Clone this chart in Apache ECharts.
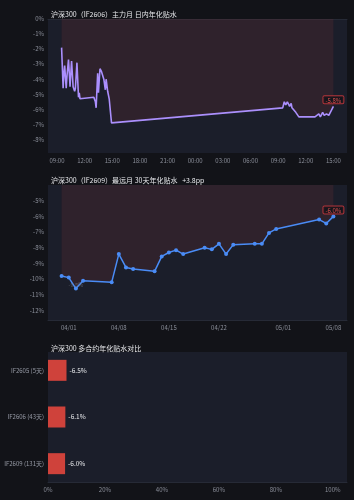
<!DOCTYPE html>
<html>
<head>
<meta charset="utf-8">
<script src="https://cdn.jsdelivr.net/npm/echarts@6/dist/echarts.min.js"></script>
<style>
  html, body { margin: 0; padding: 0; background: #121318; }
  #chart { width: 354px; height: 500px; }
</style>
</head>
<body>
<div id="chart"></div>
<script>
// IF2606 intraday annualized basis (%)
const intraTimes = [
  '2026-05-07 09:30', '2026-05-07 09:40', '2026-05-07 09:45', '2026-05-07 09:50', '2026-05-07 10:00',
  '2026-05-07 10:05', '2026-05-07 10:15', '2026-05-07 10:25', '2026-05-07 10:35', '2026-05-07 10:45',
  '2026-05-07 10:55', '2026-05-07 11:00', '2026-05-07 11:10', '2026-05-07 11:20', '2026-05-07 11:25',
  '2026-05-07 11:30', '2026-05-07 13:00', '2026-05-07 13:10', '2026-05-07 13:15', '2026-05-07 13:25',
  '2026-05-07 13:30', '2026-05-07 13:40', '2026-05-07 13:50', '2026-05-07 14:00', '2026-05-07 14:05',
  '2026-05-07 14:15', '2026-05-07 14:20', '2026-05-07 14:30', '2026-05-07 14:40', '2026-05-07 14:45',
  '2026-05-07 14:55', '2026-05-07 15:00',
  '2026-05-08 09:30', '2026-05-08 09:40', '2026-05-08 09:50', '2026-05-08 10:00', '2026-05-08 10:15',
  '2026-05-08 10:25', '2026-05-08 10:30', '2026-05-08 10:40', '2026-05-08 10:55', '2026-05-08 11:05',
  '2026-05-08 11:15', '2026-05-08 11:30', '2026-05-08 13:00', '2026-05-08 13:10', '2026-05-08 13:25',
  '2026-05-08 13:35', '2026-05-08 13:50', '2026-05-08 14:00', '2026-05-08 14:15', '2026-05-08 14:30',
  '2026-05-08 14:40', '2026-05-08 14:50', '2026-05-08 15:00'
];
const intraValues = [
  -1.9, -4.6, -3.6, -3.1, -4.6,
  -3.8, -2.7, -4.5, -2.8, -4.5,
  -4.8, -4.6, -2.9, -5.2, -4.9,
  -5.3, -5.2, -5.5, -5.9, -3.6,
  -4.9, -3.3, -3.5, -3.6, -4.0,
  -4.7, -4.0, -4.8, -5.3, -5.3,
  -6.9, -6.9,
  -5.9, -5.5, -5.7, -5.5, -5.8,
  -5.6, -5.9, -5.8, -6.2, -6.3,
  -6.5, -6.5, -6.5, -6.6, -6.3,
  -6.5, -6.2, -6.4, -6.3, -6.4,
  -6.2, -6.1, -5.8
];
const intraTicks = [
  '2026-05-07 09:00', '2026-05-07 12:00', '2026-05-07 15:00', '2026-05-07 18:00', '2026-05-07 21:00',
  '2026-05-08 00:00', '2026-05-08 03:00', '2026-05-08 06:00', '2026-05-08 09:00', '2026-05-08 12:00',
  '2026-05-08 15:00'
];

// IF2609 30-day annualized basis (%)
const farDates = [
  '2026-03-31', '2026-04-01', '2026-04-02', '2026-04-03', '2026-04-07', '2026-04-08', '2026-04-09',
  '2026-04-10', '2026-04-13', '2026-04-14', '2026-04-15', '2026-04-16', '2026-04-17', '2026-04-20',
  '2026-04-21', '2026-04-22', '2026-04-23', '2026-04-24', '2026-04-27', '2026-04-28', '2026-04-29',
  '2026-04-30', '2026-05-06', '2026-05-07', '2026-05-08'
];
const farValues = [
  -9.8, -9.9, -10.6, -10.1, -10.2, -8.4, -9.25,
  -9.35, -9.5, -8.55, -8.3, -8.15, -8.4, -8.0,
  -8.1, -7.75, -8.4, -7.8, -7.75, -7.75, -7.05,
  -6.8, -6.2, -6.45, -6.0
];
const farTicks = ['2026-04-01', '2026-04-08', '2026-04-15', '2026-04-22', '2026-05-01', '2026-05-08'];

// contracts compare
const contracts = ['IF2605 (5天)', 'IF2606 (43天)', 'IF2609 (131天)'];
const contractValues = [-6.5, -6.1, -6.0];

const BG = '#1b1e2a';
const AXIS_TXT = '#8a8e99';
const FONT = 'Noto Sans CJK SC, Noto Sans, sans-serif';

function ts(s) {
  return new Date(s.length === 10 ? s + 'T00:00' : s.replace(' ', 'T')).getTime();
}
function pad(n) { return (n < 10 ? '0' : '') + n; }
function pctInt(v) {
  return Math.abs(v - Math.round(v)) < 1e-6 ? Math.round(v) + '%' : '';
}
function padMin(v) { return v.min - (v.max - v.min) * 0.05; }
function padMax(v) { return v.max + (v.max - v.min) * 0.05; }

const intraData = intraTimes.map((t, i) => [ts(t), intraValues[i]]);
const farData = farDates.map((t, i) => [ts(t), farValues[i]]);
const lastIntra = intraData[intraData.length - 1];
const lastFar = farData[farData.length - 1];
const change = farValues[farValues.length - 1] - farValues[0];

const endLabel = {
  show: true,
  position: 'top',
  distance: 3,
  color: '#e0524f',
  fontSize: 6,
  fontFamily: FONT,
  borderColor: '#b0343a',
  borderWidth: 1,
  borderRadius: 1,
  padding: [1, 2, 0, 2],
  backgroundColor: 'rgba(18,19,26,0.85)',
  formatter: p => p.value.toFixed(1) + '%'
};
const titleStyle = { color: '#e6e7ea', fontSize: 7, fontWeight: 'normal', fontFamily: FONT };

const chart = echarts.init(document.getElementById('chart'));

chart.setOption({
  backgroundColor: '#121318',
  animation: false,
  textStyle: { fontFamily: FONT },
  title: [
    { text: '沪深300（IF2606）主力月 日内年化贴水', left: 46, top: 6, textStyle: titleStyle },
    { text: '沪深300（IF2609）最远月 30天年化贴水   ' + (change >= 0 ? '+' : '') + change.toFixed(1) + 'pp',
      left: 46, top: 172, textStyle: titleStyle },
    { text: '沪深300 多合约年化贴水对比', left: 46, top: 340, textStyle: titleStyle }
  ],
  grid: [
    { left: 48, right: 7, top: 19, height: 134, show: true, backgroundColor: BG, borderWidth: 0 },
    { left: 48, right: 7, top: 185, height: 135, show: true, backgroundColor: BG, borderWidth: 0 },
    // panel behind the bars
    { left: 48, right: 7, top: 352, height: 130, show: true, backgroundColor: BG, borderWidth: 0 },
    { left: 48, right: 7, top: 347, height: 140, show: false }
  ],
  xAxis: [
    {
      type: 'value', gridIndex: 0, min: padMin, max: padMax,
      axisLine: { show: true, lineStyle: { color: '#262a36' } },
      axisTick: { show: false },
      splitLine: { show: false },
      axisLabel: {
        customValues: intraTicks.map(ts),
        color: AXIS_TXT, fontSize: 6, margin: 5,
        formatter: v => { const d = new Date(v); return pad(d.getHours()) + ':' + pad(d.getMinutes()); }
      }
    },
    {
      type: 'value', gridIndex: 1, min: padMin, max: padMax,
      axisLine: { show: true, lineStyle: { color: '#262a36' } },
      axisTick: { show: false },
      splitLine: { show: false },
      axisLabel: {
        customValues: farTicks.map(ts),
        color: AXIS_TXT, fontSize: 6, margin: 5,
        formatter: v => { const d = new Date(v); return pad(d.getMonth() + 1) + '/' + pad(d.getDate()); }
      }
    },
    {
      type: 'value', gridIndex: 2, min: 0, max: 105, interval: 20,
      axisLine: { show: true, lineStyle: { color: '#262a36' } },
      axisTick: { show: false },
      splitLine: { show: false },
      axisLabel: { color: AXIS_TXT, fontSize: 6, margin: 5,
        formatter: v => (v % 20 === 0 ? v + '%' : '') }
    },
    {
      type: 'value', gridIndex: 3, min: 0, max: 105, show: false
    }
  ],
  yAxis: [
    {
      type: 'value', gridIndex: 0, splitNumber: 9,
      min: v => v.min - 2, max: v => Math.min(0, v.max + 2),
      axisLine: { show: false }, axisTick: { show: false }, splitLine: { show: false },
      axisLabel: { color: AXIS_TXT, fontSize: 6, margin: 4, formatter: pctInt }
    },
    {
      type: 'value', gridIndex: 1, splitNumber: 9,
      min: v => v.min - 2, max: v => Math.min(0, v.max + 2),
      axisLine: { show: false }, axisTick: { show: false }, splitLine: { show: false },
      axisLabel: { color: AXIS_TXT, fontSize: 6, margin: 4, formatter: pctInt, showMaxLabel: false }
    },
    {
      type: 'value', gridIndex: 2, show: false
    },
    {
      type: 'category', gridIndex: 3, data: contracts, inverse: true,
      axisLine: { show: false }, axisTick: { show: false }, splitLine: { show: false },
      axisLabel: { color: '#979ba6', fontSize: 6, margin: 4 }
    }
  ],
  series: [
    {
      type: 'line', xAxisIndex: 0, yAxisIndex: 0,
      data: intraData,
      symbol: 'none',
      lineStyle: { color: '#ab8ffc', width: 1.6 },
      areaStyle: { origin: 'end', color: 'rgba(239,68,68,0.14)' },
      markPoint: {
        symbol: 'circle', symbolSize: 0,
        label: endLabel,
        data: [{ coord: lastIntra, value: lastIntra[1] }]
      }
    },
    {
      type: 'line', xAxisIndex: 1, yAxisIndex: 1,
      data: farData,
      symbol: 'circle', symbolSize: 4,
      itemStyle: { color: '#4a8cf6' },
      lineStyle: { color: '#4a8cf6', width: 1.5 },
      areaStyle: { origin: 'end', color: 'rgba(239,68,68,0.14)' },
      markPoint: {
        symbol: 'circle', symbolSize: 0,
        data: [
          { coord: lastFar, value: lastFar[1], label: endLabel },
          { coord: farData[2], value: farValues[0],
            label: { show: true, position: 'top', distance: 1, color: 'rgba(140,140,150,0.55)', fontSize: 5.5,
              formatter: p => p.value.toFixed(1) + '%' } }
        ]
      }
    },
    {
      type: 'bar', xAxisIndex: 3, yAxisIndex: 3,
      data: contractValues.map(v => Math.abs(v)),
      barWidth: 21,
      itemStyle: { color: '#cf423b' },
      label: {
        show: true, position: 'right', distance: 3,
        color: '#e6e7ea', fontSize: 6.5,
        formatter: p => contractValues[p.dataIndex].toFixed(1) + '%'
      }
    }
  ]
});
</script>
</body>
</html>
